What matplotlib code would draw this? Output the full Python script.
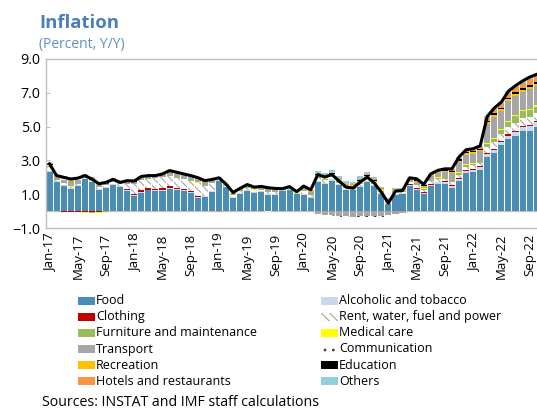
import numpy as np
import pandas as pd
import matplotlib
matplotlib.use("Agg")
import matplotlib.pyplot as plt
from matplotlib.patches import Rectangle

plt.rcParams['font.family'] = ['Open Sans', 'DejaVu Sans']
plt.rcParams['hatch.linewidth'] = 0.8

# monthly, Jan-2017 .. Oct-2022 (contributions, percentage points)
months = pd.date_range('2017-01-01', periods=70, freq='MS').strftime('%b-%y').tolist()

food = [2.30, 1.70, 1.50, 1.32, 1.48, 1.90, 1.74, 1.27, 1.36, 1.56, 1.42, 1.17,
        0.89, 1.10, 1.22, 1.18, 1.18, 1.30, 1.24, 1.18, 1.08, 0.77, 0.83, 1.14,
        1.80, 1.40, 0.79, 1.03, 1.18, 1.06, 1.12, 0.97, 0.97, 1.20, 1.25, 1.03,
        0.98, 0.75, 1.72, 1.62, 1.81, 1.52, 1.22, 1.22, 1.42, 1.72, 1.48, 1.03,
        0.43, 0.97, 0.99, 1.48, 1.26, 1.03, 1.48, 1.62, 1.62, 1.36, 1.78, 2.25,
        2.33, 2.45, 3.20, 3.43, 3.89, 4.24, 4.42, 4.73, 4.75, 4.97]
alcohol = [0.08, 0.06, 0.06, 0.05, 0.05, 0.04, 0.04, 0.04, 0.05, 0.05, 0.05, 0.06,
           0.05, 0.05, 0.05, 0.05, 0.05, 0.05, 0.05, 0.05, 0.05, 0.05, 0.05, 0.05,
           0.04, 0.04, 0.05, 0.05, 0.06, 0.06, 0.06, 0.06, 0.06, 0.05, 0.05, 0.04,
           0.06, 0.06, 0.07, 0.07, 0.07, 0.07, 0.07, 0.07, 0.07, 0.07, 0.07, 0.06,
           0.06, 0.06, 0.06, 0.07, 0.07, 0.07, 0.08, 0.08, 0.09, 0.10, 0.12, 0.12,
           0.12, 0.13, 0.15, 0.18, 0.20, 0.22, 0.25, 0.25, 0.27, 0.28]
clothing = [0.02, 0.00, -0.03, -0.05, -0.05, -0.05, -0.05, -0.04, -0.02, 0.00, 0.02, 0.05,
            0.05, 0.08, 0.10, 0.10, 0.12, 0.12, 0.10, 0.10, 0.08, 0.05, 0.03, 0.02,
            0.01, 0.01, 0.00, 0.00, 0.01, 0.01, 0.01, 0.01, 0.01, 0.00, 0.00, 0.00,
            0.00, 0.00, 0.00, 0.00, 0.00, 0.00, 0.00, 0.00, 0.00, 0.00, 0.00, 0.00,
            0.00, 0.00, 0.00, 0.03, 0.04, 0.04, 0.05, 0.05, 0.05, 0.06, 0.06, 0.06,
            0.06, 0.06, 0.06, 0.07, 0.07, 0.08, 0.08, 0.08, 0.08, 0.08]
rent = [0.15, 0.10, 0.08, 0.08, 0.08, 0.00, 0.00, 0.12, 0.12, 0.12, 0.10, 0.30,
        0.60, 0.62, 0.55, 0.60, 0.65, 0.60, 0.58, 0.55, 0.60, 0.80, 0.60, 0.45,
        0.04, 0.05, 0.12, 0.12, 0.12, 0.10, 0.08, 0.10, 0.10, 0.00, 0.03, 0.00,
        0.15, 0.15, 0.15, 0.14, 0.12, 0.10, 0.08, 0.06, 0.10, 0.10, 0.08, 0.06,
        0.05, 0.08, 0.08, 0.12, 0.15, 0.12, 0.15, 0.15, 0.15, 0.18, 0.20, 0.20,
        0.20, 0.20, 0.40, 0.40, 0.40, 0.45, 0.45, 0.45, 0.45, 0.45]
furniture = [0.02, 0.01, 0.00, 0.00, -0.02, -0.03, -0.04, -0.04, -0.03, 0.00, 0.00, 0.02,
             0.02, 0.02, 0.02, 0.02, 0.02, 0.02, 0.02, 0.02, 0.02, 0.02, 0.02, 0.02,
             0.02, 0.02, 0.03, 0.03, 0.04, 0.04, 0.04, 0.05, 0.05, 0.03, 0.04, 0.03,
             0.05, 0.05, 0.08, 0.08, 0.08, 0.07, 0.07, 0.07, 0.08, 0.08, 0.06, 0.05,
             0.04, 0.05, 0.05, 0.06, 0.06, 0.06, 0.07, 0.07, 0.08, 0.08, 0.10, 0.10,
             0.10, 0.12, 0.18, 0.20, 0.25, 0.30, 0.40, 0.40, 0.42, 0.40]
medical = [0.01, 0.01, 0.01, 0.01, 0.00, -0.02, -0.02, -0.02, 0.00, 0.01, 0.01, 0.01,
           0.01, 0.01, 0.01, 0.01, 0.01, 0.01, 0.01, 0.01, 0.01, 0.01, 0.01, 0.01,
           0.01, 0.01, 0.01, 0.01, 0.01, 0.01, 0.01, 0.01, 0.01, 0.01, 0.01, 0.01,
           0.02, 0.02, 0.03, 0.03, 0.03, 0.03, 0.03, 0.03, 0.03, 0.03, 0.03, 0.02,
           0.02, 0.02, 0.02, 0.02, 0.02, 0.02, 0.02, 0.02, 0.02, 0.03, 0.03, 0.03,
           0.03, 0.03, 0.05, 0.05, 0.05, 0.06, 0.06, 0.06, 0.07, 0.07]
transport = [0.10, 0.12, 0.20, 0.30, 0.25, 0.00, 0.00, 0.12, 0.10, 0.08, 0.05, 0.10,
             0.08, 0.10, 0.08, 0.08, 0.10, 0.20, 0.20, 0.20, 0.18, 0.20, 0.18, 0.10,
             0.02, 0.02, 0.04, 0.04, 0.06, 0.06, 0.06, 0.08, 0.05, 0.00, 0.00, -0.02,
             0.10, 0.10, -0.20, -0.22, -0.25, -0.28, -0.30, -0.32, -0.30, -0.28, -0.28, -0.27,
             -0.25, -0.15, -0.10, 0.05, 0.15, 0.10, 0.20, 0.25, 0.30, 0.45, 0.60, 0.55,
             0.55, 0.55, 1.10, 1.25, 1.05, 1.15, 1.15, 1.10, 1.20, 1.15]
communication = [0.02, 0.02, 0.02, 0.02, 0.02, 0.02, 0.02, 0.02, 0.02, 0.02, 0.02, 0.02,
                 0.01, 0.01, 0.01, 0.01, 0.01, 0.01, 0.01, 0.01, 0.01, 0.01, 0.01, 0.01,
                 0.00, 0.00, 0.00, 0.00, 0.00, 0.00, 0.00, -0.03, -0.02, 0.00, 0.00, 0.00,
                 0.00, 0.00, -0.03, -0.03, -0.04, -0.04, -0.05, -0.05, -0.05, -0.05, -0.05, -0.05,
                 -0.03, -0.02, -0.02, 0.00, 0.00, 0.00, 0.00, 0.00, 0.00, 0.00, 0.00, 0.00,
                 0.00, 0.00, 0.00, 0.00, 0.00, 0.00, 0.00, 0.00, 0.00, 0.00]
recreation = [0.05, 0.05, 0.06, 0.06, 0.06, 0.05, 0.05, 0.05, 0.04, 0.03, 0.03, 0.04,
              0.04, 0.04, 0.04, 0.04, 0.04, 0.04, 0.04, 0.04, 0.04, 0.04, 0.04, 0.04,
              0.03, 0.03, 0.04, 0.04, 0.05, 0.04, 0.04, 0.05, 0.04, 0.02, 0.03, 0.03,
              0.04, 0.05, 0.10, 0.10, 0.10, 0.08, 0.08, 0.08, 0.10, 0.10, 0.08, 0.08,
              0.06, 0.06, 0.05, 0.05, 0.06, 0.05, 0.06, 0.06, 0.07, 0.08, 0.10, 0.10,
              0.10, 0.10, 0.12, 0.12, 0.12, 0.12, 0.12, 0.12, 0.13, 0.13]
education = [0.02, 0.02, 0.08, 0.06, 0.02, 0.02, 0.02, 0.02, 0.02, 0.02, 0.02, 0.02,
             0.01, 0.01, 0.01, 0.01, 0.01, 0.04, 0.04, 0.02, 0.01, 0.01, 0.01, 0.01,
             0.00, 0.00, 0.00, 0.01, 0.01, 0.01, 0.01, 0.01, 0.01, 0.00, 0.01, 0.01,
             0.01, 0.01, 0.02, 0.02, 0.02, 0.02, 0.02, 0.02, 0.02, 0.02, 0.02, 0.02,
             0.02, 0.02, 0.02, 0.02, 0.03, 0.03, 0.03, 0.03, 0.03, 0.05, 0.08, 0.08,
             0.05, 0.05, 0.08, 0.10, 0.10, 0.10, 0.10, 0.10, 0.12, 0.12]
hotels = [0.02, 0.01, 0.01, 0.01, 0.01, 0.01, 0.01, 0.01, 0.01, 0.01, 0.01, 0.01,
          0.01, 0.01, 0.01, 0.01, 0.01, 0.01, 0.01, 0.01, 0.01, 0.01, 0.01, 0.01,
          -0.03, -0.02, 0.00, 0.01, 0.02, 0.02, 0.02, 0.03, 0.03, 0.02, 0.02, 0.02,
          0.03, 0.03, 0.05, 0.05, 0.05, 0.05, 0.05, 0.05, 0.05, 0.05, 0.05, 0.05,
          0.04, 0.05, 0.05, 0.05, 0.05, 0.05, 0.05, 0.06, 0.07, 0.08, 0.10, 0.10,
          0.10, 0.12, 0.18, 0.20, 0.22, 0.28, 0.30, 0.30, 0.32, 0.32]
others = [0.04, 0.05, 0.05, 0.05, 0.05, 0.16, 0.13, 0.03, 0.03, 0.03, 0.03, 0.03,
          0.01, 0.01, 0.01, 0.01, 0.01, 0.01, 0.01, 0.01, 0.01, 0.01, 0.01, 0.01,
          0.03, 0.04, 0.02, 0.01, 0.01, 0.01, 0.01, 0.04, 0.03, 0.00, 0.01, 0.00,
          0.04, 0.04, 0.17, 0.16, 0.17, 0.16, 0.15, 0.13, 0.20, 0.17, 0.12, 0.07,
          0.03, 0.04, 0.02, 0.02, 0.02, 0.01, 0.01, 0.02, 0.02, 0.03, 0.03, 0.04,
          0.05, 0.05, 0.08, 0.10, 0.10, 0.10, 0.09, 0.11, 0.12, 0.12]
headline = [2.80, 2.10, 2.00, 1.90, 1.95, 2.10, 1.90, 1.62, 1.70, 1.88, 1.70, 1.80,
            1.78, 2.05, 2.10, 2.10, 2.20, 2.40, 2.30, 2.20, 2.10, 1.98, 1.80, 1.87,
            1.97, 1.60, 1.10, 1.35, 1.57, 1.42, 1.46, 1.38, 1.34, 1.33, 1.45, 1.15,
            1.48, 1.26, 2.16, 2.02, 2.16, 1.78, 1.42, 1.36, 1.72, 2.01, 1.66, 1.12,
            0.47, 1.18, 1.22, 1.97, 1.91, 1.58, 2.20, 2.41, 2.50, 2.50, 3.20, 3.63,
            3.69, 3.86, 5.60, 6.10, 6.45, 7.10, 7.42, 7.70, 7.93, 8.09]

# name, values, face, hatch colour, hatch
series = [
    ('Food', food, '#4a8db3', None, None),
    ('Alcoholic and tobacco', alcohol, '#c6d9f0', None, None),
    ('Clothing', clothing, '#c00000', None, None),
    ('Rent, water, fuel and power', rent, 'white', '#a6a6a6', '\\\\\\\\'),
    ('Furniture and maintenance', furniture, '#9bbb59', None, None),
    ('Medical care', medical, '#ffff00', None, None),
    ('Transport', transport, '#a6a6a6', None, None),
    ('Communication', communication, 'white', '#404040', '..'),
    ('Recreation', recreation, '#ffc000', None, None),
    ('Education', education, '#000000', None, None),
    ('Hotels and restaurants', hotels, '#f79646', None, None),
    ('Others', others, '#92cddc', None, None),
]

W, H = 537, 412
fig = plt.figure(figsize=(W / 100, H / 100), dpi=100)
ax = fig.add_axes([46 / W, (H - 228) / H, 494.2 / W, 169 / H])

x = np.arange(len(months))
pos_base = np.zeros(len(x))
neg_base = np.zeros(len(x))
for name, vals, face, hcol, hatch in series:
    v = np.array(vals)
    bottom = np.where(v >= 0, pos_base, neg_base)
    ax.bar(x, v, width=0.86, bottom=bottom, color=face,
           edgecolor=hcol if hcol else 'none', hatch=hatch, linewidth=0, zorder=2)
    pos_base = pos_base + np.clip(v, 0, None)
    neg_base = neg_base + np.clip(v, None, 0)

ax.plot(x, headline, color='black', lw=2.2, zorder=4, solid_joinstyle='round')
ax.axhline(0, color='#bfbfbf', lw=1, zorder=1)

ax.set_xlim(-0.5, len(x) - 0.5)
ax.set_ylim(-1, 9)
yt = [-1, 1, 3, 5, 7, 9]
ax.set_yticks(yt)
ax.set_yticklabels([f'{t:.1f}'.replace('-', '\u2212') for t in yt])
ax.set_xticks(x[::4])
ax.set_xticklabels(months[::4], rotation=90)

for s in ['top', 'bottom', 'left']:
    ax.spines[s].set_color('#bfbfbf')
    ax.spines[s].set_linewidth(1)
ax.spines['right'].set_visible(False)
ax.tick_params(axis='y', direction='in', length=3, color='#bfbfbf', labelsize=10.3, pad=4)
ax.tick_params(axis='x', length=0, labelsize=9.5, pad=4)

fig.text(39 / W, 1 - 28 / H, 'Inflation', fontsize=13.3, fontweight='bold',
         color='#4a7eb4', va='baseline')
fig.text(39 / W, 1 - 48 / H, '(Percent, Y/Y)', fontsize=10, color='#5b8fc7', va='baseline')

# legend, two columns laid out row by row
for k, (name, vals, face, hcol, hatch) in enumerate(series):
    row, col = divmod(k, 2)
    px = 78 if col == 0 else 321
    yc = 300.7 + 16.1 * row
    fig.add_artist(Rectangle((px / W, 1 - (yc + 4) / H), 17 / W, 8 / H,
                             transform=fig.transFigure, facecolor=face,
                             edgecolor=hcol if hcol else 'none', hatch=hatch, linewidth=0))
    fig.text((px + 18) / W, 1 - yc / H, name, fontsize=9, va='center')

fig.text(42 / W, 1 - 403 / H, 'Sources: INSTAT and IMF staff calculations',
         fontsize=10.2, va='center')

fig.savefig('out.png', dpi=100)
